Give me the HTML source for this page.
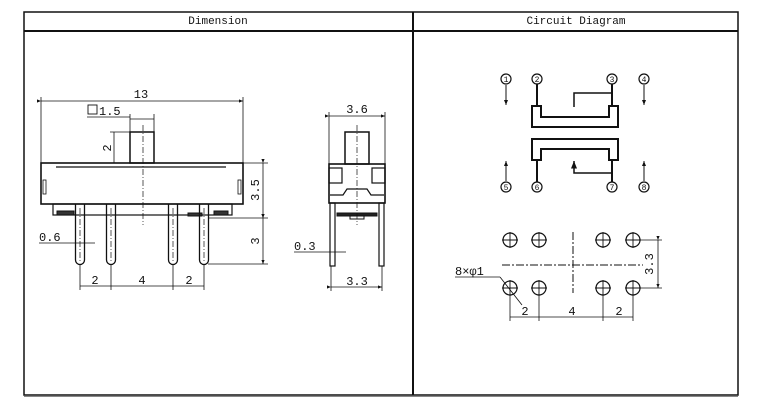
<!DOCTYPE html>
<html><head><meta charset="utf-8"><style>
html,body{margin:0;padding:0;background:#fff;width:762px;height:413px;overflow:hidden}
svg{display:block}
text{font-family:"Liberation Mono","Noto Sans CJK SC",monospace;fill:#111}
</style></head><body>
<svg width="762" height="413" viewBox="0 0 762 413" xmlns="http://www.w3.org/2000/svg">
<defs>
<marker id="a" markerWidth="6" markerHeight="6" refX="5" refY="3" orient="auto"><path d="M0,1 L5,3 L0,5 z" fill="#111"/></marker>
</defs>
<!-- frame -->
<rect x="24" y="12" width="714" height="383" fill="none" stroke="#111" stroke-width="1.5"/>
<line x1="24" y1="31" x2="738" y2="31" stroke="#111" stroke-width="2"/>
<line x1="413" y1="12" x2="413" y2="395" stroke="#111" stroke-width="2"/>
<line x1="24" y1="396.5" x2="738" y2="396.5" stroke="#888" stroke-width="1"/>
<text x="218" y="24" font-size="11" text-anchor="middle">Dimension</text>
<text x="576" y="24" font-size="11" text-anchor="middle">Circuit Diagram</text>

<g stroke="#111" fill="none" stroke-width="1">
<!-- front view -->
<line x1="41" y1="101" x2="243" y2="101" marker-start="url(#a)" marker-end="url(#a)" stroke-width="0.8"/>
<line x1="41" y1="97" x2="41" y2="163" stroke-width="0.8"/>
<line x1="243" y1="97" x2="243" y2="163" stroke-width="0.8"/>
<line x1="87" y1="117" x2="130" y2="117" stroke-width="0.8"/>
<line x1="130" y1="119" x2="154" y2="119" stroke-width="0.8"/>
<line x1="130" y1="114" x2="130" y2="132" stroke-width="0.8"/>
<line x1="154" y1="114" x2="154" y2="132" stroke-width="0.8"/>
<rect x="130" y="132" width="24" height="31" stroke-width="1.5"/>
<line x1="114" y1="132" x2="114" y2="163" stroke-width="0.8"/>
<line x1="110" y1="132" x2="130" y2="132" stroke-width="0.8"/>
<rect x="41" y="163" width="202" height="41" stroke-width="1.6"/>
<line x1="56" y1="167" x2="226" y2="167" stroke-width="1.2"/>
<rect x="43" y="180" width="3" height="14" stroke-width="0.8"/>
<rect x="238" y="180" width="3" height="14" stroke-width="0.8"/>
<rect x="53" y="204" width="179" height="11" stroke-width="1.2"/>
<rect x="57" y="211" width="17" height="4" fill="#333"/>
<rect x="188" y="213" width="14" height="3" fill="#333"/>
<rect x="214" y="211" width="14" height="4" fill="#333"/>
<g stroke-width="1.3">
<path d="M75.5 204 V260 a4.5 4.5 0 0 0 9 0 V204"/>
<path d="M106.5 204 V260 a4.5 4.5 0 0 0 9 0 V204"/>
<path d="M168.5 204 V260 a4.5 4.5 0 0 0 9 0 V204"/>
<path d="M199.5 204 V260 a4.5 4.5 0 0 0 9 0 V204"/>
</g>
<g stroke-dasharray="6 2 1 2" stroke-width="0.7">
<line x1="80" y1="208" x2="80" y2="262"/><line x1="111" y1="208" x2="111" y2="262"/>
<line x1="173" y1="208" x2="173" y2="262"/><line x1="204" y1="208" x2="204" y2="262"/>
<line x1="143" y1="125" x2="143" y2="225"/>
</g>
<line x1="243" y1="163" x2="268" y2="163" stroke-width="0.8"/>
<line x1="208" y1="218" x2="268" y2="218" stroke-width="0.8"/>
<line x1="208" y1="264" x2="268" y2="264" stroke-width="0.8"/>
<line x1="263" y1="163" x2="263" y2="218" marker-start="url(#a)" marker-end="url(#a)" stroke-width="0.8"/>
<line x1="263" y1="218" x2="263" y2="264" marker-start="url(#a)" marker-end="url(#a)" stroke-width="0.8"/>
<line x1="39" y1="243" x2="95" y2="243" stroke-width="0.8"/>
<line x1="80" y1="264" x2="80" y2="290" stroke-width="0.8"/>
<line x1="111" y1="264" x2="111" y2="290" stroke-width="0.8"/>
<line x1="173" y1="264" x2="173" y2="290" stroke-width="0.8"/>
<line x1="204" y1="264" x2="204" y2="290" stroke-width="0.8"/>
<line x1="80" y1="286" x2="204" y2="286" stroke-width="0.8"/>

<!-- side view -->
<line x1="329" y1="116" x2="385" y2="116" marker-start="url(#a)" marker-end="url(#a)" stroke-width="0.8"/>
<line x1="329" y1="112" x2="329" y2="164" stroke-width="0.8"/>
<line x1="385" y1="112" x2="385" y2="164" stroke-width="0.8"/>
<rect x="345" y="132" width="24" height="32" stroke-width="1.5"/>
<rect x="329" y="164" width="56" height="39" stroke-width="1.6"/>
<rect x="329" y="168" width="13" height="15" stroke-width="1.2"/>
<rect x="372" y="168" width="13" height="15" stroke-width="1.2"/>
<path d="M330 195 H343 L347 189 H367 L371 195 H384" stroke-width="1.2"/>
<rect x="330" y="203" width="5" height="63" stroke-width="1.2"/>
<rect x="379" y="203" width="5" height="63" stroke-width="1.2"/>
<rect x="337" y="213" width="40" height="3" fill="#222"/>
<rect x="350" y="216" width="14" height="3"/>
<line x1="357" y1="125" x2="357" y2="225" stroke-dasharray="6 2 1 2" stroke-width="0.7"/>
<line x1="294" y1="252" x2="346" y2="252" stroke-width="0.8"/>
<line x1="331" y1="266" x2="331" y2="291" stroke-width="0.8"/>
<line x1="382" y1="266" x2="382" y2="291" stroke-width="0.8"/>
<line x1="331" y1="287" x2="382" y2="287" marker-start="url(#a)" marker-end="url(#a)" stroke-width="0.8"/>

<!-- circuit -->
<g stroke-width="1.2">
<circle cx="506" cy="79" r="5"/><circle cx="537" cy="79" r="5"/><circle cx="612" cy="79" r="5"/><circle cx="644" cy="79" r="5"/>
<circle cx="506" cy="187" r="5"/><circle cx="537" cy="187" r="5"/><circle cx="612" cy="187" r="5"/><circle cx="644" cy="187" r="5"/>
</g>
<line x1="506" y1="85" x2="506" y2="105" marker-end="url(#a)"/>
<line x1="644" y1="85" x2="644" y2="105" marker-end="url(#a)"/>
<line x1="506" y1="181" x2="506" y2="161" marker-end="url(#a)"/>
<line x1="644" y1="181" x2="644" y2="161" marker-end="url(#a)"/>
<line x1="537" y1="84" x2="537" y2="106" stroke-width="2"/>
<line x1="612" y1="84" x2="612" y2="106" stroke-width="2"/>
<path d="M612 93 H574 V107" stroke-width="1.5"/>
<line x1="537" y1="160" x2="537" y2="182" stroke-width="2"/>
<line x1="612" y1="160" x2="612" y2="182" stroke-width="2"/>
<path d="M612 173 H574 V161" stroke-width="1.5" marker-end="url(#a)"/>
<path d="M532 106 H541 V117 H609 V106 H618 V127 H532 Z" stroke-width="2"/>
<path d="M532 139 H618 V160 H609 V149 H541 V160 H532 Z" stroke-width="2"/>

<!-- footprint -->
<g stroke-width="1.2">
<circle cx="510" cy="240" r="7"/><circle cx="539" cy="240" r="7"/><circle cx="603" cy="240" r="7"/><circle cx="633" cy="240" r="7"/>
<circle cx="510" cy="288" r="7"/><circle cx="539" cy="288" r="7"/><circle cx="603" cy="288" r="7"/><circle cx="633" cy="288" r="7"/>
</g>
<g stroke-width="0.9">
<path d="M502 240h16M510 232v16M531 240h16M539 232v16M595 240h16M603 232v16M625 240h16M633 232v16"/>
<path d="M502 288h16M510 280v16M531 288h16M539 280v16M595 288h16M603 280v16M625 288h16M633 280v16"/>
</g>
<line x1="502" y1="265" x2="643" y2="265" stroke-dasharray="8 2 2 2" stroke-width="1"/>
<line x1="573" y1="232" x2="573" y2="293" stroke-dasharray="8 2 2 2" stroke-width="1"/>
<line x1="640" y1="240" x2="662" y2="240" stroke-width="0.8"/>
<line x1="640" y1="288" x2="662" y2="288" stroke-width="0.8"/>
<line x1="658" y1="240" x2="658" y2="288" marker-start="url(#a)" marker-end="url(#a)" stroke-width="0.8"/>
<line x1="455" y1="277" x2="500" y2="277" stroke-width="0.8"/>
<line x1="500" y1="277" x2="522" y2="305" stroke-width="0.8"/>
<line x1="510" y1="295" x2="510" y2="321" stroke-width="0.8"/>
<line x1="539" y1="295" x2="539" y2="321" stroke-width="0.8"/>
<line x1="603" y1="295" x2="603" y2="321" stroke-width="0.8"/>
<line x1="633" y1="295" x2="633" y2="321" stroke-width="0.8"/>
<line x1="510" y1="317" x2="633" y2="317" stroke-width="0.8"/>
</g>

<g font-size="12">
<text x="141" y="98" text-anchor="middle">13</text>
<rect x="88" y="105" width="9" height="9" fill="none" stroke="#111" stroke-width="0.9"/>
<text x="99" y="115">1.5</text>
<text x="111" y="148" text-anchor="middle" transform="rotate(-90 111 148)">2</text>
<text x="259" y="190" text-anchor="middle" transform="rotate(-90 259 190)">3.5</text>
<text x="259" y="241" text-anchor="middle" transform="rotate(-90 259 241)">3</text>
<text x="39" y="241">0.6</text>
<text x="95" y="284" text-anchor="middle">2</text>
<text x="142" y="284" text-anchor="middle">4</text>
<text x="189" y="284" text-anchor="middle">2</text>
<text x="357" y="113" text-anchor="middle">3.6</text>
<text x="294" y="250">0.3</text>
<text x="357" y="285" text-anchor="middle">3.3</text>
<text x="653" y="264" text-anchor="middle" transform="rotate(-90 653 264)">3.3</text>
<text x="455" y="275">8×φ1</text>
<text x="525" y="315" text-anchor="middle">2</text>
<text x="572" y="315" text-anchor="middle">4</text>
<text x="619" y="315" text-anchor="middle">2</text>
</g>
<g font-size="8" text-anchor="middle">
<text x="506" y="82">1</text><text x="537" y="82">2</text><text x="612" y="82">3</text><text x="644" y="82">4</text>
<text x="506" y="190">5</text><text x="537" y="190">6</text><text x="612" y="190">7</text><text x="644" y="190">8</text>
</g>
</svg>
</body></html>
